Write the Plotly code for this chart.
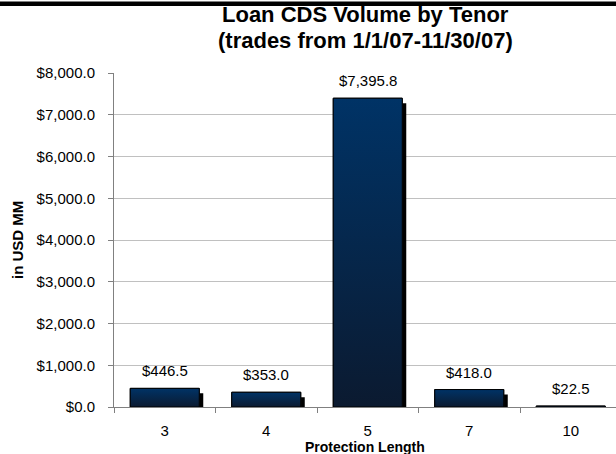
import plotly.graph_objects as go

# ---- data ----
tenors = ["3", "4", "5", "7", "10"]
volumes = [446.5, 353.0, 7395.8, 418.0, 22.5]
y_ticks = [0, 1000, 2000, 3000, 4000, 5000, 6000, 7000, 8000]
y_tick_text = [f"${v:,.1f}" for v in y_ticks]

title_line1 = "Loan CDS Volume by Tenor"
title_line2 = "(trades from 1/1/07-11/30/07)"
x_title = "Protection Length"
y_title = "in USD MM"

FONT = "Liberation Sans, Arial, sans-serif"
W, H = 616, 454
ML, MR, MT, MB = 114, 0, 73, 47
plot_w = W - ML - MR
plot_h = H - MT - MB
cat_px = 101.5
x_hi = -0.5 + plot_w / cat_px
bar_w = 0.68
shadow_dx = 4 / cat_px
shadow_dy = 5 / plot_h * 8000


def py(pix):
    """pixel row -> paper y"""
    return (H - MB - pix) / plot_h


def px(pix):
    """pixel column -> paper x"""
    return (pix - ML) / plot_w


idx = list(range(len(tenors)))

fig = go.Figure()

# shadow bars
fig.add_trace(go.Bar(
    x=idx, y=volumes, base=[-shadow_dy] * len(volumes),
    width=bar_w, offset=-bar_w / 2 + shadow_dx,
    marker=dict(color="#000000", line=dict(width=0)),
    hoverinfo="skip", showlegend=False,
))
# main bars
fig.add_trace(go.Bar(
    x=idx, y=volumes, width=bar_w,
    marker=dict(color="#062a52", line=dict(color="#111111", width=1)),
    showlegend=False,
))
# gradient fill over each bar
for i, v in zip(idx, volumes):
    fig.add_trace(go.Scatter(
        x=[i - bar_w / 2, i - bar_w / 2, i + bar_w / 2, i + bar_w / 2, i - bar_w / 2],
        y=[0, v, v, 0, 0],
        mode="lines", fill="toself",
        fillgradient=dict(type="vertical",
                          colorscale=[[0, "#0b1a30"], [1, "#003366"]]),
        line=dict(color="#000000", width=1),
        hoverinfo="skip", showlegend=False,
    ))

# value labels
for i, v in zip(idx, volumes):
    fig.add_annotation(x=i, y=v, text=f"${v:,.1f}", showarrow=False,
                       yanchor="bottom", yshift=7,
                       font=dict(family=FONT, size=15, color="#000000"))

# titles
fig.add_annotation(xref="paper", yref="paper", x=0.5, y=py(14), yanchor="middle",
                   xanchor="center", text=f"<b>{title_line1}</b>", showarrow=False,
                   font=dict(family=FONT, size=22, color="#000000"))
fig.add_annotation(xref="paper", yref="paper", x=0.5, y=py(41), yanchor="middle",
                   xanchor="center", text=f"<b>{title_line2}</b>", showarrow=False,
                   font=dict(family=FONT, size=22, color="#000000"))
fig.add_annotation(xref="paper", yref="paper", x=px(17), y=py(240),
                   xanchor="center", yanchor="middle",
                   text=f"<b>{y_title}</b>", textangle=-90, showarrow=False,
                   font=dict(family=FONT, size=15, color="#000000"))
fig.add_annotation(xref="paper", yref="paper", x=0.5, y=py(447), yanchor="middle",
                   xanchor="center", text=f"<b>{x_title}</b>", showarrow=False,
                   font=dict(family=FONT, size=14, color="#000000"))

# top rule: black band across the top edge
fig.add_shape(type="rect", xref="paper", yref="paper",
              x0=px(-2), x1=px(W + 2), y0=py(6), y1=py(1.5),
              fillcolor="#000000", line=dict(width=0), layer="above")

fig.update_layout(
    width=W, height=H,
    margin=dict(l=ML, r=MR, t=MT, b=MB, pad=0),
    paper_bgcolor="white", plot_bgcolor="white",
    barmode="overlay",
    font=dict(family=FONT, size=15, color="#000000"),
    xaxis=dict(range=[-0.5, x_hi], tickmode="array", tickvals=idx, ticktext=tenors,
               ticks="", showgrid=False, zeroline=False,
               showline=True, linecolor="#808080", linewidth=1,
               tickfont=dict(size=15), ticklabelstandoff=10,
               minor=dict(tickmode="array", tickvals=[i - 0.5 for i in idx] + [len(idx) - 0.5],
                          ticks="outside", ticklen=5, tickcolor="#808080", showgrid=False)),
    yaxis=dict(range=[0, 8000], tickmode="array", tickvals=y_ticks, ticktext=y_tick_text,
               ticks="outside", ticklen=5, tickcolor="#808080",
               showline=True, linecolor="#808080", linewidth=1,
               showgrid=True, gridcolor="#c0c0c0", gridwidth=1,
               zeroline=False, tickfont=dict(size=15), ticklabelstandoff=10),
)

fig.write_html("out.html")
